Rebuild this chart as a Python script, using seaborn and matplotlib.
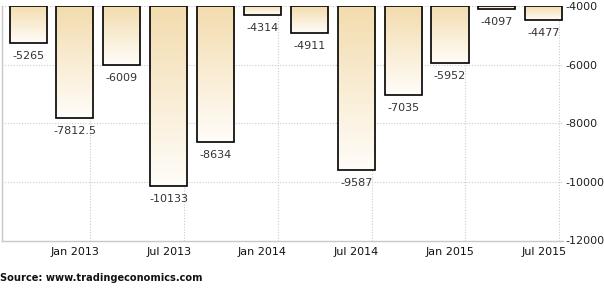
import numpy as np
import pandas as pd
import matplotlib
matplotlib.use("Agg")
import matplotlib.pyplot as plt
from matplotlib.colors import LinearSegmentedColormap
import seaborn as sns

# ---- data ----
quarters = ["Q3 2012", "Q4 2012", "Q1 2013", "Q2 2013", "Q3 2013", "Q4 2013",
            "Q1 2014", "Q2 2014", "Q3 2014", "Q4 2014", "Q1 2015", "Q2 2015"]
values = [-5265, -7812.5, -6009, -10133, -8634, -4314,
          -4911, -9587, -7035, -5952, -4097, -4477]
value_labels = ["-5265", "-7812.5", "-6009", "-10133", "-8634", "-4314",
                "-4911", "-9587", "-7035", "-5952", "-4097", "-4477"]
xtick_labels = ["Jan 2013", "Jul 2013", "Jan 2014", "Jul 2014", "Jan 2015", "Jul 2015"]
ytick_values = [-4000, -6000, -8000, -10000, -12000]
base_value = -4000
source_text = "Source: www.tradingeconomics.com"

df = pd.DataFrame({"quarter": quarters, "value": values})

sns.set_style("white")
plt.rcParams["font.family"] = ["DejaVu Sans"]

fig = plt.figure(figsize=(6.04, 2.92), dpi=100)
ax = fig.add_axes([2 / 604, 1 - 240.5 / 292, (563 - 2) / 604, (240.5 - 6) / 292])

sns.barplot(data=df, x="quarter", y="value", ax=ax, width=0.79,
            color="#f3dcae", edgecolor="black", linewidth=1.2, zorder=3)

cmap = LinearSegmentedColormap.from_list("grad", ["#fffdf9", "#f3dcae"])
grad = np.linspace(0, 1, 256).reshape(-1, 1)

for patch, v, lab in zip(ax.patches, values, value_labels):
    x0 = patch.get_x()
    w = patch.get_width()
    patch.set_y(base_value)
    patch.set_height(v - base_value)
    patch.set_facecolor("none")
    patch.set_joinstyle("miter")
    patch.set_zorder(4)
    im = ax.imshow(grad, extent=[x0, x0 + w, v, base_value], aspect="auto",
                   cmap=cmap, origin="lower", zorder=3, interpolation="bilinear")
    im.set_clip_path(patch)
    ax.annotate(lab, (x0 + w / 2, v), xytext=(0, -9.5), textcoords="offset points",
                ha="center", va="center", fontsize=8, color="#333333", zorder=5)

ax.set_xlim(-0.555, 11.41)
ax.set_ylim(-12000, -4000)

# grid
for yv in ytick_values[:-1]:
    ax.axhline(yv, color="#cccccc", linestyle=(0, (1, 1.5)), linewidth=0.8, zorder=1)
for k in range(6):
    ax.axvline(1.33 + 2 * k, color="#cccccc", linestyle=(0, (1, 1.5)), linewidth=0.8, zorder=1)

ax.set_xticks([1, 3, 5, 7, 9, 11])
ax.set_xticklabels(xtick_labels, fontsize=8, color="#111111")
ax.set_yticks(ytick_values)
ax.set_yticklabels([str(t) for t in ytick_values], fontsize=8, color="#222222")
ax.yaxis.tick_right()
ax.tick_params(axis="y", length=0, pad=2)
ax.tick_params(axis="x", length=0, pad=5)
for lbl in ax.get_yticklabels():
    lbl.set_horizontalalignment("left")
ax.set_xlabel("")
ax.set_ylabel("")

for s in ["top", "right"]:
    ax.spines[s].set_visible(False)
ax.spines["left"].set_color("#c8c8c8")
ax.spines["bottom"].set_color("#c8c8c8")
ax.spines["left"].set_linewidth(1)
ax.spines["bottom"].set_linewidth(1)

fig.text(0 / 604, 1 - 278 / 292, source_text, fontsize=7.1, fontweight="bold",
         color="#111111", ha="left", va="center")

fig.savefig("out.png", dpi=100)
